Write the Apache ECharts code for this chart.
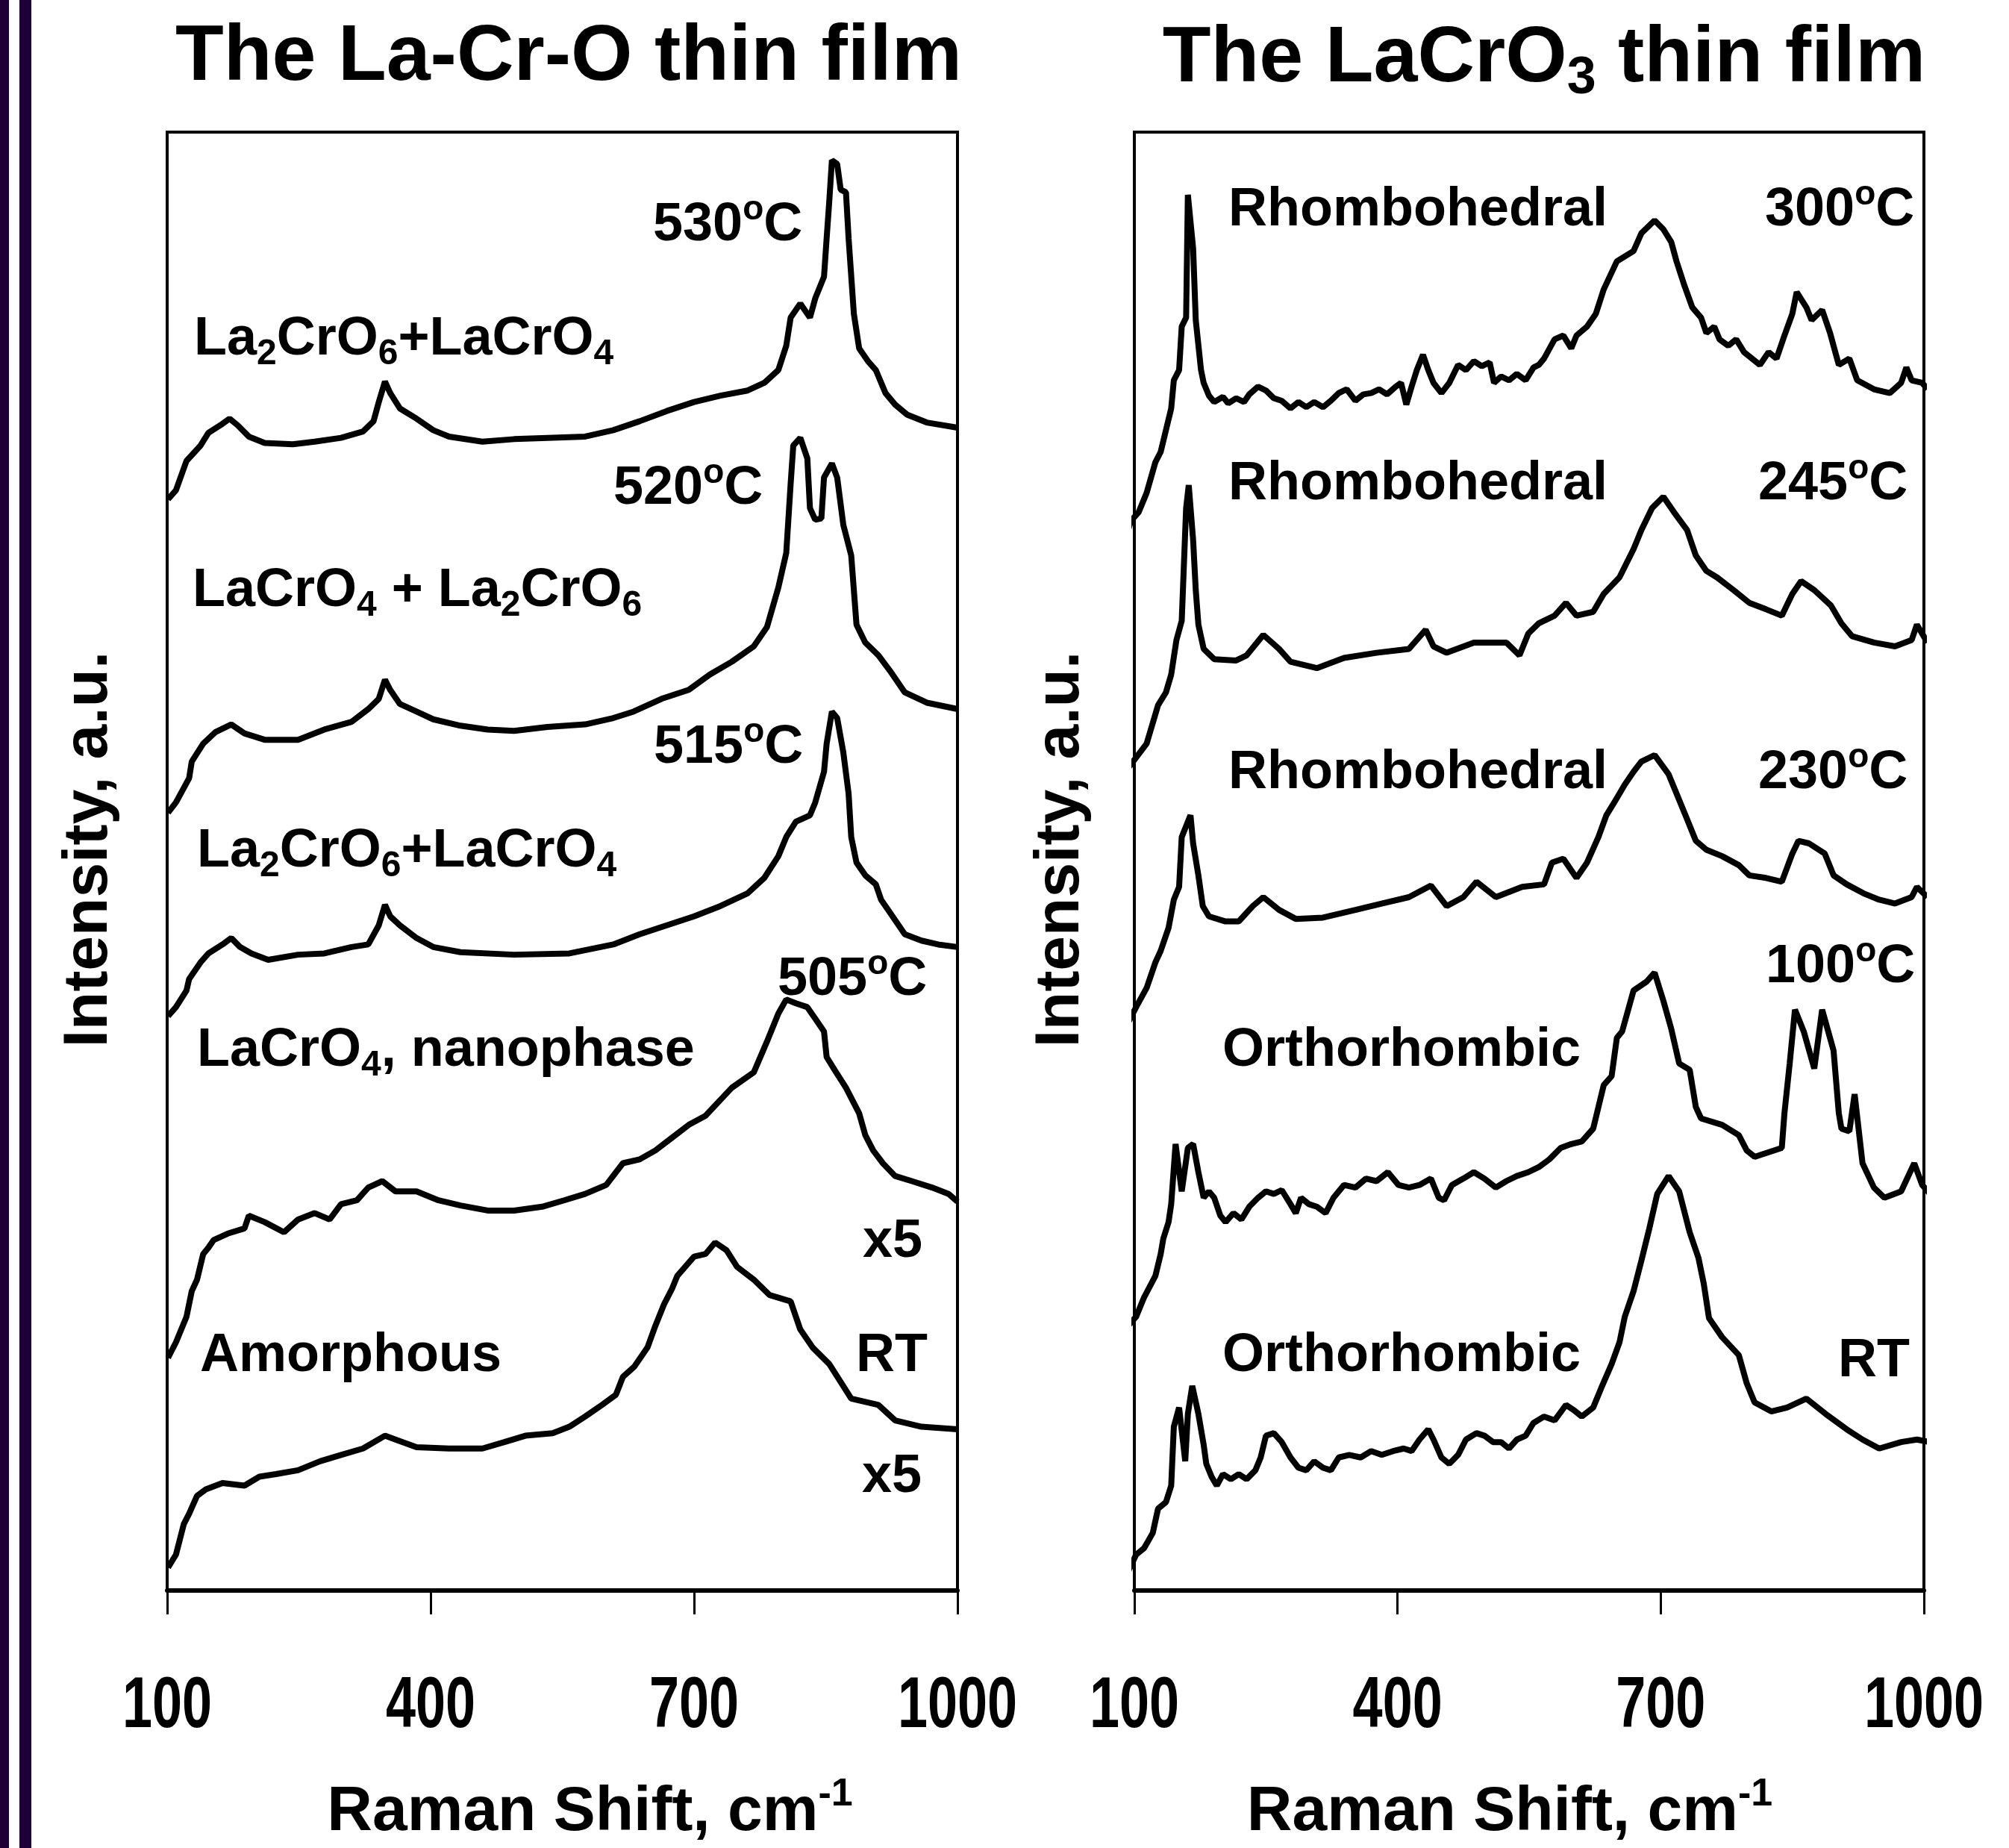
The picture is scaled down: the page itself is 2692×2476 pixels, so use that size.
<!DOCTYPE html>
<html>
<head>
<meta charset="utf-8">
<script src="https://cdn.jsdelivr.net/npm/echarts@6/dist/echarts.min.js"></script>
<style>
  html, body { margin: 0; padding: 0; background: #fff; }
  #chart { width: 2692px; height: 2476px; }
</style>
</head>
<body>
<div id="chart"></div>
<script>
// Raman spectra, x = Raman shift (cm-1), y = offset intensity (a.u.)
// left panel: La-Cr-O film
const s530 = [[101,853],[110,860],[122,883],[138,895],[147,905],[163,912],[171,916],[180,911],[193,902],[211,897],[243,896],[268,898],[298,901],[323,906],[335,914],[341,929],[348,945],[354,936],[365,924],[384,916],[403,907],[421,902],[459,898],[495,900],[533,901],[576,902],[608,907],[638,914],[669,922],[700,929],[730,934],[761,938],[780,944],[796,954],[805,973],[810,995],[821,1006],[832,995],[838,1010],[848,1027],[851,1057],[854,1086],[857,1118],[863,1115],[867,1095],[873,1093],[876,1057],[882,998],[888,971],[898,961],[907,954],[918,936],[929,927],[943,919],[965,913],[1000,909]];
const s520 = [[101,608],[110,616],[125,635],[128,648],[141,662],[155,671],[173,677],[188,670],[211,665],[249,665],[279,673],[310,679],[329,689],[341,697],[348,712],[354,704],[365,693],[384,687],[403,681],[434,676],[465,673],[495,672],[533,675],[576,677],[608,682],[631,687],[663,697],[694,704],[718,716],[743,726],[768,738],[783,753],[796,784],[805,811],[810,865],[813,895],[821,901],[829,885],[832,846],[838,837],[845,838],[848,870],[857,881],[863,870],[870,833],[879,809],[885,755],[895,741],[910,731],[923,719],[940,702],[965,694],[1000,689]];
const s515 = [[101,449],[110,456],[122,469],[125,478],[138,491],[147,498],[163,505],[173,510],[183,503],[196,498],[215,493],[249,497],[279,498],[310,503],[329,505],[341,520],[348,536],[354,527],[365,520],[384,510],[403,503],[434,499],[495,497],[558,498],[608,505],[638,513],[669,520],[700,527],[730,535],[761,545],[780,557],[796,574],[805,589],[816,601],[832,606],[838,616],[848,640],[851,662],[857,687],[863,682],[870,655],[876,623],[879,589],[885,569],[895,559],[907,552],[913,540],[923,530],[940,513],[959,508],[978,505],[1000,503]];
const s505 = [[101,182],[110,194],[122,214],[128,234],[134,243],[141,263],[147,268],[153,274],[169,279],[188,283],[193,293],[211,288],[233,280],[249,290],[268,295],[285,290],[298,302],[316,305],[329,315],[345,320],[360,312],[384,312],[409,305],[434,301],[465,297],[495,297],[527,300],[552,305],[576,310],[600,317],[619,334],[638,337],[656,344],[675,354],[694,364],[713,371],[743,393],[768,405],[783,429],[796,451],[805,462],[816,459],[829,456],[838,447],[848,437],[851,417],[860,407],[873,393],[888,373],[895,356],[904,344],[915,334],[929,324],[948,320],[971,315],[990,310],[1000,304]];
const sRTa = [[101,18],[110,28],[119,52],[125,60],[134,74],[144,79],[163,84],[188,82],[205,89],[224,91],[249,94],[274,101],[298,106],[323,111],[348,121],[360,118],[384,112],[421,111],[459,111],[484,116],[508,121],[539,123],[558,128],[576,136],[595,145],[611,153],[619,167],[632,175],[647,190],[656,207],[666,224],[675,236],[681,246],[700,261],[713,263],[724,272],[737,266],[749,253],[768,243],[786,231],[810,226],[821,204],[835,190],[854,177],[867,163],[879,150],[910,145],[929,133],[959,128],[1000,126]];
// right panel: LaCrO3 film
const s300 = [[93,829],[96,836],[105,843],[114,858],[124,882],[130,890],[136,907],[142,924],[145,946],[151,954],[154,988],[159,995],[161,1091],[167,1049],[170,993],[176,954],[179,944],[185,934],[191,929],[201,933],[207,928],[216,932],[225,929],[231,935],[241,941],[250,938],[259,932],[268,930],[278,924],[287,929],[296,925],[305,929],[315,925],[324,930],[333,936],[342,939],[352,930],[361,935],[370,936],[379,939],[388,935],[398,941],[404,944],[410,927],[416,941],[422,954],[429,966],[435,954],[441,944],[450,936],[459,944],[469,958],[478,954],[487,961],[496,957],[505,960],[510,944],[518,949],[527,946],[536,951],[546,946],[555,956],[561,958],[567,963],[579,978],[589,981],[598,971],[604,981],[616,988],[626,998],[635,1017],[650,1039],[669,1047],[678,1061],[693,1071],[703,1064],[712,1054],[718,1039],[727,1020],[736,1003],[746,995],[752,983],[761,988],[767,978],[777,973],[786,978],[795,968],[804,963],[813,958],[823,968],[832,963],[841,981],[850,998],[855,1015],[866,1003],[872,993],[884,1001],[893,983],[903,958],[915,963],[924,946],[943,939],[961,936],[974,944],[980,956],[986,946],[998,944],[1004,939]];
const s245 = [[93,643],[114,662],[127,692],[136,702],[142,716],[148,743],[154,758],[159,846],[162,864],[167,821],[170,782],[173,755],[179,736],[191,728],[216,727],[228,731],[247,747],[265,736],[278,726],[308,721],[339,729],[376,733],[413,736],[432,751],[441,738],[456,733],[487,741],[524,741],[539,731],[549,748],[561,756],[579,762],[592,772],[604,762],[623,765],[635,779],[653,792],[669,814],[678,829],[690,846],[703,855],[715,843],[730,829],[740,809],[752,797],[764,792],[783,782],[801,772],[820,767],[838,762],[850,779],[860,789],[875,782],[894,770],[906,756],[918,746],[943,741],[967,738],[986,743],[992,755],[1004,741]];
const s230 = [[93,444],[102,456],[114,471],[124,491],[130,500],[139,518],[145,540],[151,550],[154,589],[164,606],[167,584],[173,559],[178,535],[185,527],[204,523],[219,523],[235,535],[247,542],[265,532],[284,525],[315,526],[352,532],[382,537],[413,542],[438,551],[456,535],[475,542],[490,554],[512,542],[542,550],[567,552],[576,569],[589,572],[604,557],[616,569],[629,589],[638,606],[647,616],[659,630],[669,640],[678,648],[693,653],[709,638],[721,618],[730,603],[740,586],[752,579],[770,574],[789,567],[801,559],[820,557],[838,554],[850,576],[857,586],[869,584],[887,576],[897,559],[912,552],[931,545],[949,540],[967,537],[986,542],[992,550],[1004,542]];
const s100 = [[93,207],[102,214],[111,229],[124,246],[130,263],[133,275],[139,288],[142,302],[147,349],[154,312],[161,346],[167,349],[173,327],[179,307],[185,312],[191,307],[198,293],[204,288],[213,295],[222,290],[231,300],[241,307],[250,312],[259,310],[268,313],[278,302],[284,295],[290,307],[299,302],[308,300],[318,295],[327,307],[339,317],[352,315],[364,322],[376,320],[389,327],[401,317],[413,315],[425,317],[438,322],[447,307],[453,305],[462,317],[475,322],[487,327],[499,322],[512,315],[524,320],[536,324],[549,327],[561,331],[573,337],[586,346],[598,349],[610,351],[623,361],[629,378],[635,395],[644,402],[650,432],[656,437],[669,469],[684,476],[693,483],[703,461],[712,439],[721,412],[733,407],[740,378],[746,369],[770,364],[789,356],[798,344],[807,339],[838,346],[841,373],[847,412],[853,454],[863,437],[875,408],[884,454],[897,422],[903,373],[906,361],[915,359],[921,388],[930,334],[943,315],[955,307],[974,312],[989,334],[998,317],[1007,310]];
const sRTb = [[93,15],[102,28],[111,33],[121,45],[127,64],[136,69],[142,82],[145,128],[151,143],[158,101],[161,138],[166,160],[173,138],[179,114],[182,99],[188,89],[194,82],[201,91],[210,87],[219,91],[228,87],[238,94],[244,104],[250,121],[259,123],[268,116],[278,104],[287,96],[296,94],[305,101],[315,96],[324,94],[333,104],[345,106],[358,104],[370,109],[382,106],[395,109],[407,111],[416,109],[425,118],[435,126],[441,118],[450,104],[459,99],[469,106],[478,118],[490,123],[499,121],[509,116],[518,116],[527,111],[536,118],[546,121],[555,131],[567,136],[579,133],[592,145],[601,141],[610,136],[623,143],[632,158],[644,177],[653,194],[659,214],[669,234],[678,258],[687,283],[696,310],[709,324],[721,312],[733,280],[743,260],[749,240],[755,213],[770,198],[789,184],[798,162],[807,147],[826,140],[844,143],[866,150],[888,138],[912,126],[930,118],[949,111],[974,116],[992,118],[1007,116]];

const leftSpectra = [s530, s520, s515, s505, sRTa];
const rightSpectra = [s300, s245, s230, s100, sRTb];
const ramanTicks = [100, 400, 700, 1000];

// annotation text, rich markup: n = normal, d = subscript, o = superscript
const leftLabels = ['{n|530}{o|o}{n|C}', '{n|La}{d|2}{n|CrO}{d|6}{n|+LaCrO}{d|4}', '{n|520}{o|o}{n|C}', '{n|LaCrO}{d|4}{n| + La}{d|2}{n|CrO}{d|6}',
  '{n|515}{o|o}{n|C}', '{n|La}{d|2}{n|CrO}{d|6}{n|+LaCrO}{d|4}', '{n|505}{o|o}{n|C}', '{n|LaCrO}{d|4}{n|, nanophase}', '{n|x5}', '{n|Amorphous}', '{n|RT}', '{n|x5}'];
const rightLabels = ['{n|Rhombohedral}', '{n|300}{o|o}{n|C}', '{n|Rhombohedral}', '{n|245}{o|o}{n|C}', '{n|Rhombohedral}', '{n|230}{o|o}{n|C}',
  '{n|100}{o|o}{n|C}', '{n|Orthorhombic}', '{n|Orthorhombic}', '{n|RT}'];
// placement of each label (left edge, cap top) in px
const leftLabelPos = [[875,272],[260,425],[822,625],[258,762],[876,972],[264,1111],[1042,1283],[264,1378],[1156,1634],[268,1787],[1147,1787],[1155,1949]];
const rightLabelPos = [[1646,252],[2365,252],[1646,619],[2356,619],[1646,1006],[2356,1006],[2366,1266],[1638,1378],[1638,1787],[2463,1794]];

const F = "'Liberation Sans', Arial, Helvetica, sans-serif";

const labRich = {
  n: { fontSize: 72, fontWeight: 'bold', fontFamily: F, lineHeight: 88, fill: '#000' },
  d: { fontSize: 48, fontWeight: 'bold', fontFamily: F, lineHeight: 40, verticalAlign: 'bottom', fill: '#000' },
  o: { fontSize: 46, fontWeight: 'bold', fontFamily: F, lineHeight: 46, verticalAlign: 'top', fill: '#000' }
};

function makeLabels(texts, pos) {
  return texts.map((t, i) => ({
    type: 'text',
    x: pos[i][0],
    y: pos[i][1] - 14,
    z: 100,
    style: { text: t, rich: labRich, align: 'left', verticalAlign: 'top', fill: '#000' }
  }));
}

const myChart = echarts.init(document.getElementById('chart'));

function xAxisFor(gridIndex, namePad) {
  return {
    type: 'value',
    gridIndex: gridIndex,
    min: 100,
    max: 1000,
    interval: 300,
    name: '{a|Raman Shift, cm}{p|-1}',
    nameLocation: 'middle',
    nameGap: 248,
    nameTextStyle: {
      padding: namePad,
      rich: {
        a: { fontSize: 84, fontWeight: 'bold', fontFamily: F, color: '#000', lineHeight: 100 },
        p: { fontSize: 52, fontWeight: 'bold', fontFamily: F, color: '#000', lineHeight: 52, verticalAlign: 'top' }
      }
    },
    axisLine: { show: true, onZero: false, lineStyle: { color: '#000', width: 6 } },
    axisTick: { show: true, inside: false, length: 32, lineStyle: { color: '#000', width: 3 } },
    // tick labels are drawn condensed below, from the same scale
    axisLabel: { show: false },
    splitLine: { show: false }
  };
}

function yAxisFor(gridIndex, gap) {
  return {
    type: 'value',
    gridIndex: gridIndex,
    min: 0,
    max: 1140,
    name: 'Intensity, a.u.',
    nameLocation: 'middle',
    nameGap: gap,
    nameTextStyle: { fontSize: 84, fontWeight: 'bold', fontFamily: F, color: '#000', padding: [0, 0, 0, 32] },
    axisLine: { show: false },
    axisTick: { show: false },
    axisLabel: { show: false },
    splitLine: { show: false }
  };
}

const series = [];
leftSpectra.forEach(d => series.push({ type: 'line', xAxisIndex: 0, yAxisIndex: 0, data: d, showSymbol: false, clip: false, lineStyle: { color: '#000', width: 8 } }));
rightSpectra.forEach(d => series.push({ type: 'line', xAxisIndex: 1, yAxisIndex: 1, data: d, showSymbol: false, clip: false, lineStyle: { color: '#000', width: 8 } }));

const option = {
  animation: false,
  backgroundColor: '#fff',
  title: [
    { text: 'The La-Cr-O thin film', left: 757, top: 20, textAlign: 'center',
      textStyle: { fontSize: 106, fontWeight: 'bold', fontFamily: F, color: '#000' } },
    { text: '{t|The LaCrO}{s|3}{t| thin film}', left: 2064, top: 14, textAlign: 'center',
      textStyle: { rich: {
        t: { fontSize: 106, fontWeight: 'bold', fontFamily: F, color: '#000', lineHeight: 122 },
        s: { fontSize: 70, fontWeight: 'bold', fontFamily: F, color: '#000', lineHeight: 56, verticalAlign: 'bottom' }
      } } }
  ],
  grid: [
    { left: 224, right: 1409, top: 177, bottom: 342, show: true, borderColor: '#000', borderWidth: 4, backgroundColor: 'transparent' },
    { left: 1520, right: 114, top: 177, bottom: 342, show: true, borderColor: '#000', borderWidth: 4, backgroundColor: 'transparent' }
  ],
  xAxis: [xAxisFor(0, [0, 0, 0, 74]), xAxisFor(1, [0, 52, 0, 0])],
  yAxis: [yAxisFor(0, 62), yAxisFor(1, 56)],
  series: series
};

myChart.setOption(option);

// condensed tick labels placed through each x axis' own scale
const tickLabels = [];
[0, 1].forEach(ax => {
  ramanTicks.forEach(v => {
    const px = myChart.convertToPixel({ xAxisIndex: ax }, v);
    tickLabels.push({
      type: 'text', x: px, y: 2240, scaleX: 0.75, z: 100,
      style: { text: String(v), align: 'center', verticalAlign: 'top', fontSize: 96, lineHeight: 96, fontWeight: 'bold', fontFamily: F, fill: '#000' }
    });
  });
});

myChart.setOption({
  graphic: [
    { type: 'rect', shape: { x: 0, y: 0, width: 12, height: 2476 }, style: { fill: '#1f0036' } },
    { type: 'rect', shape: { x: 26, y: 0, width: 16, height: 2476 }, style: { fill: '#1f0036' } }
  ].concat(makeLabels(leftLabels, leftLabelPos), makeLabels(rightLabels, rightLabelPos), tickLabels)
});
</script>
</body>
</html>
